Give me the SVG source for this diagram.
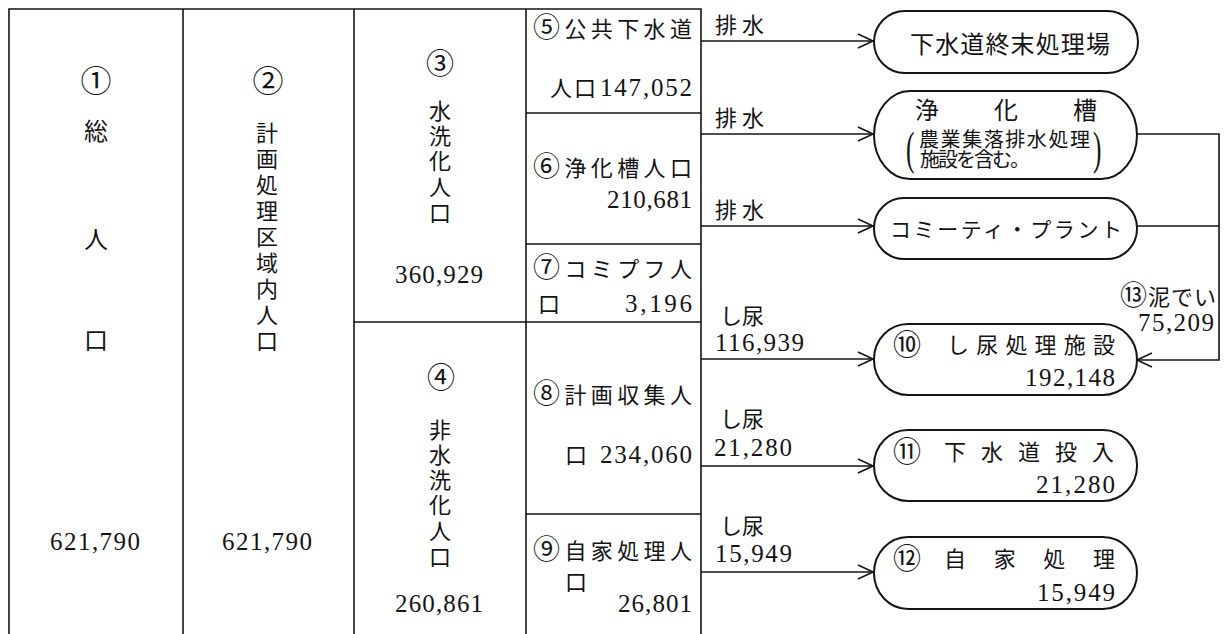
<svg xmlns="http://www.w3.org/2000/svg" width="1226" height="634" viewBox="0 0 1226 634">
<style>
.ln{stroke:#141414;stroke-width:1.6;fill:none}
.bx{stroke:#141414;stroke-width:2;fill:#fff}
.cn{stroke:#141414;stroke-width:1.6;fill:none}
.t{font-family:"Liberation Serif","Noto Sans CJK JP",serif;font-size:22px;fill:#141414}
.n{font-family:"Liberation Serif","Noto Sans CJK JP",serif;font-size:25px;fill:#141414}
.c{text-anchor:middle}
.big{font-size:24px}
.sm{font-size:20px}
.ci{font-size:31px}
.ci2{font-size:28px}
.ci3{font-size:27px}
.par{font-size:46px}
.kt{font-size:21px}
</style>
<defs>
<marker id="ah" markerUnits="userSpaceOnUse" markerWidth="18" markerHeight="18" refX="15" refY="7" orient="auto" overflow="visible">
<path d="M0,0 L15,7 L0,14" fill="none" stroke="#141414" stroke-width="1.6"/>
</marker>
</defs>
<rect width="1226" height="634" fill="#fff"/>

<g id="table-lines">
<path class="ln" d="M9,634 V9 H701 V634 M183,9 V634 M354,9 V634 M526,9 V634 M354,322 H701 M526,113 H701 M526,244 H701 M526,514 H701"/>
</g>

<g id="n1-total">
<text class="t c ci" x="96" y="92">①</text>
<text class="t c big" x="96" y="140">総</text>
<text class="t c big" x="96" y="248">人</text>
<text class="t c big" x="96" y="349">口</text>
<text class="n" x="50" y="550" textLength="90" lengthAdjust="spacing">621,790</text>
</g>

<g id="n2-planned">
<text class="t c ci" x="268" y="92">②</text>
<text class="t c" x="267" y="141">計</text>
<text class="t c" x="267" y="167">画</text>
<text class="t c" x="267" y="193">処</text>
<text class="t c" x="267" y="219">理</text>
<text class="t c" x="267" y="245">区</text>
<text class="t c" x="267" y="271">域</text>
<text class="t c" x="267" y="297">内</text>
<text class="t c" x="267" y="323">人</text>
<text class="t c" x="267" y="349">口</text>
<text class="n" x="222" y="550" textLength="90" lengthAdjust="spacing">621,790</text>
</g>

<g id="n3-flush">
<text class="t c ci2" x="440" y="74">③</text>
<text class="t c" x="440" y="119">水</text>
<text class="t c" x="440" y="144">洗</text>
<text class="t c" x="440" y="169">化</text>
<text class="t c" x="440" y="195">人</text>
<text class="t c" x="440" y="221">口</text>
<text class="n" x="395" y="283" textLength="88" lengthAdjust="spacing">360,929</text>
</g>

<g id="n4-nonflush">
<text class="t c ci2" x="441" y="388">④</text>
<text class="t c" x="440" y="438">非</text>
<text class="t c" x="440" y="463">水</text>
<text class="t c" x="440" y="488">洗</text>
<text class="t c" x="440" y="513">化</text>
<text class="t c" x="440" y="539">人</text>
<text class="t c" x="440" y="565">口</text>
<text class="n" x="395" y="612" textLength="88" lengthAdjust="spacing">260,861</text>
</g>

<g id="n5-sewer">
<text class="t" x="533" y="37" textLength="159" lengthAdjust="spacing"><tspan class="ci3">⑤</tspan>公共下水道</text>
<text class="t" x="550" y="96" textLength="46" lengthAdjust="spacing">人口</text>
<text class="n" x="600" y="96" textLength="92" lengthAdjust="spacing">147,052</text>
</g>

<g id="n6-septic">
<text class="t" x="533" y="176" textLength="159" lengthAdjust="spacing"><tspan class="ci3">⑥</tspan>浄化槽人口</text>
<text class="n" x="607" y="208" textLength="85" lengthAdjust="spacing">210,681</text>
</g>

<g id="n7-complant">
<text class="t" x="533" y="277" textLength="159" lengthAdjust="spacing"><tspan class="ci3">⑦</tspan>コミプフ人</text>
<text class="t" x="538" y="312">口</text>
<text class="n" x="625" y="312" textLength="67" lengthAdjust="spacing">3,196</text>
</g>

<g id="n8-collect">
<text class="t" x="533" y="403" textLength="159" lengthAdjust="spacing"><tspan class="ci3">⑧</tspan>計画収集人</text>
<text class="t" x="565" y="463">口</text>
<text class="n" x="600" y="463" textLength="92" lengthAdjust="spacing">234,060</text>
</g>

<g id="n9-self">
<text class="t" x="533" y="559" textLength="159" lengthAdjust="spacing"><tspan class="ci3">⑨</tspan>自家処理人</text>
<text class="t" x="565" y="590">口</text>
<text class="n" x="618" y="612" textLength="74" lengthAdjust="spacing">26,801</text>
</g>

<g id="b1-sewage-plant">
<rect class="bx" x="874" y="11" width="264" height="62" rx="31" ry="31"/>
<text class="t big" x="910" y="53" textLength="200" lengthAdjust="spacing">下水道終末処理場</text>
</g>

<g id="b2-septic-tank">
<rect class="bx" x="874" y="91" width="263" height="88" rx="36" ry="44"/>
<text class="t big" x="915" y="119" textLength="182" lengthAdjust="spacing">浄化槽</text>
<text class="t sm" x="919" y="147" textLength="171" lengthAdjust="spacing">農業集落排水処理</text>
<text class="t sm" x="920" y="167" textLength="110" lengthAdjust="spacing">施設を含む。</text>
<text class="t par" transform="translate(906,164) scale(0.55,1)">(</text>
<text class="t par" transform="translate(1093,164) scale(0.55,1)">)</text>
</g>

<g id="b3-community-plant">
<rect class="bx" x="874" y="198" width="263" height="61" rx="30" ry="30"/>
<text class="t kt" x="890" y="237" textLength="232" lengthAdjust="spacing">コミーティ・プラント</text>
</g>

<g id="b10-nightsoil">
<rect class="bx" x="874" y="324" width="263" height="71" rx="34" ry="35"/>
<text class="t ci2" x="893" y="355">⑩</text>
<text class="t" x="947" y="353" textLength="168" lengthAdjust="spacing">し尿処理施設</text>
<text class="n" x="1025" y="386" textLength="90" lengthAdjust="spacing">192,148</text>
</g>

<g id="b11-sewer-input">
<rect class="bx" x="874" y="430" width="263" height="71" rx="34" ry="35"/>
<text class="t ci2" x="893" y="462">⑪</text>
<text class="t" x="944" y="460" textLength="170" lengthAdjust="spacing">下水道投入</text>
<text class="n" x="1036" y="493" textLength="79" lengthAdjust="spacing">21,280</text>
</g>

<g id="b12-self-treat">
<rect class="bx" x="874" y="537" width="263" height="72" rx="34" ry="36"/>
<text class="t ci2" x="893" y="569">⑫</text>
<text class="t" x="944" y="567" textLength="171" lengthAdjust="spacing">自家処理</text>
<text class="n" x="1037" y="601" textLength="78" lengthAdjust="spacing">15,949</text>
</g>

<g id="connectors">
<path class="cn" d="M701,41 H873" marker-end="url(#ah)"/>
<path class="cn" d="M701,134 H873" marker-end="url(#ah)"/>
<path class="cn" d="M701,226 H873" marker-end="url(#ah)"/>
<path class="cn" d="M701,359 H873" marker-end="url(#ah)"/>
<path class="cn" d="M701,466 H873" marker-end="url(#ah)"/>
<path class="cn" d="M701,572 H873" marker-end="url(#ah)"/>
<path class="cn" d="M1137,134 H1219 V360 H1137" marker-end="url(#ah)"/>
<path class="cn" d="M1137,226 H1219"/>
<text class="t" x="715" y="33" textLength="49" lengthAdjust="spacing">排水</text>
<text class="t" x="715" y="126" textLength="49" lengthAdjust="spacing">排水</text>
<text class="t" x="715" y="218" textLength="49" lengthAdjust="spacing">排水</text>
<text class="t" x="720" y="324" textLength="44" lengthAdjust="spacing">し尿</text>
<text class="n" x="715" y="351" textLength="89" lengthAdjust="spacing">116,939</text>
<text class="t" x="720" y="427" textLength="44" lengthAdjust="spacing">し尿</text>
<text class="n" x="714" y="456" textLength="78" lengthAdjust="spacing">21,280</text>
<text class="t" x="720" y="534" textLength="44" lengthAdjust="spacing">し尿</text>
<text class="n" x="715" y="562" textLength="77" lengthAdjust="spacing">15,949</text>
<text class="t" x="1120" y="305" textLength="96" lengthAdjust="spacing"><tspan class="ci3">⑬</tspan>泥でい</text>
<text class="n" x="1138" y="331" textLength="76" lengthAdjust="spacing">75,209</text>
</g>
</svg>
